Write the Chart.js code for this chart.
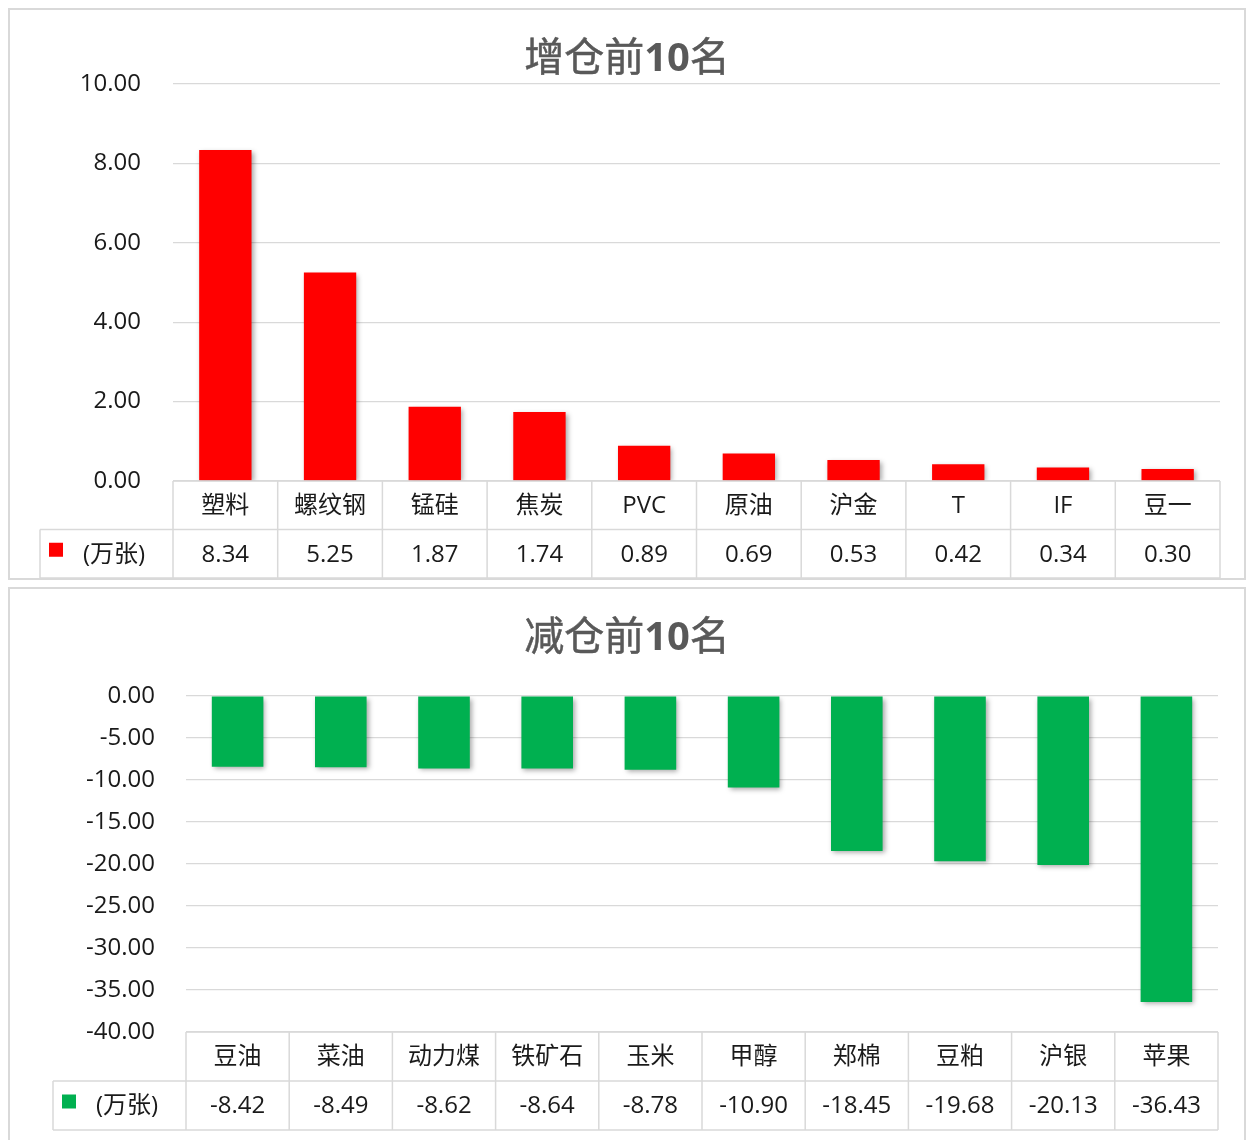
<!DOCTYPE html>
<html><head><meta charset="utf-8">
<script src="https://cdn.jsdelivr.net/npm/chart.js@4.4.1/dist/chart.umd.min.js"></script>
<style>
html,body{margin:0;padding:0;background:#fff;}
.panel{position:absolute;left:8px;width:1238px;border:2px solid #d9d9d9;box-sizing:border-box;background:#fff;}
#p1{top:8px;height:572px;}
#p2{top:587px;height:560px;}
canvas{display:block;}
</style></head><body>
<div class="panel" id="p1"><canvas id="c1" width="1234" height="568"></canvas></div>
<div class="panel" id="p2"><canvas id="c2" width="1234" height="556"></canvas></div>
<script>
const FONT = "'Open Sans','Noto Sans CJK SC',sans-serif";
Chart.defaults.font.family = FONT;

const incTitle = '增仓前10名';
const incCategories = ['塑料','螺纹钢','锰硅','焦炭','PVC','原油','沪金','T','IF','豆一'];
const incValues = [8.34, 5.25, 1.87, 1.74, 0.89, 0.69, 0.53, 0.42, 0.34, 0.30];
const incTicks = {min: 0, max: 10, step: 2};

const decTitle = '减仓前10名';
const decCategories = ['豆油','菜油','动力煤','铁矿石','玉米','甲醇','郑棉','豆粕','沪银','苹果'];
const decValues = [-8.42, -8.49, -8.62, -8.64, -8.78, -10.90, -18.45, -19.68, -20.13, -36.43];
const decTicks = {min: -40, max: 0, step: 5};

const unitLabel = '(万张)';

function drawTitle(ctx, text, cx, cy){
  const runs = [];
  for (const ch of text) {
    const bold = /[0-9A-Za-z]/.test(ch);
    if (runs.length && runs[runs.length-1].bold === bold) runs[runs.length-1].t += ch;
    else runs.push({t: ch, bold: bold});
  }
  const size = 40;
  let total = 0;
  for (const r of runs) {
    ctx.font = (r.bold ? 'bold ' : '') + size + 'px ' + FONT;
    r.w = ctx.measureText(r.t).width; total += r.w;
  }
  let x = cx - total/2;
  ctx.fillStyle = '#595959'; ctx.strokeStyle = '#595959'; ctx.lineWidth = 0.5;
  ctx.textAlign = 'left'; ctx.textBaseline = 'middle';
  for (const r of runs) {
    ctx.font = (r.bold ? 'bold ' : '') + size + 'px ' + FONT;
    ctx.fillText(r.t, x, cy);
    if (!r.bold) ctx.strokeText(r.t, x, cy);
    x += r.w;
  }
}

const excelPlugin = {
  id: 'excelTable',
  beforeDatasetsDraw(chart){
    const c = chart.ctx; c.save();
    c.shadowColor = 'rgba(0,0,0,0.35)'; c.shadowBlur = 5; c.shadowOffsetX = 2; c.shadowOffsetY = 2;
  },
  afterDatasetsDraw(chart){ chart.ctx.restore(); },
  afterDraw(chart, args, opts){
    const ctx = chart.ctx, a = chart.chartArea, xs = chart.scales.x;
    const cats = opts.categories, vals = opts.values, n = cats.length;
    const rowH = opts.rowH;
    const top = a.bottom, mid = top + rowH, bot = top + 2*rowH;
    const L = a.left, R = a.right, LL = opts.legendLeft;
    const w = (R - L) / n;
    ctx.save();
    ctx.strokeStyle = '#d9d9d9'; ctx.lineWidth = 1.5;
    ctx.beginPath();
    ctx.moveTo(L, top); ctx.lineTo(R, top);
    ctx.moveTo(LL, mid); ctx.lineTo(R, mid);
    ctx.moveTo(LL, bot); ctx.lineTo(R, bot);
    ctx.moveTo(LL, mid); ctx.lineTo(LL, bot);
    for (let i = 0; i <= n; i++) {
      const xx = (i < n ? xs.getPixelForTick(i) - w/2 : xs.getPixelForTick(n-1) + w/2);
      ctx.moveTo(xx, top); ctx.lineTo(xx, bot);
    }
    ctx.stroke();
    ctx.fillStyle = '#1a1a1a';
    ctx.font = '24px ' + FONT;
    ctx.textAlign = 'center'; ctx.textBaseline = 'middle';
    for (let i = 0; i < n; i++) {
      const cx = xs.getPixelForTick(i);
      ctx.fillText(cats[i], cx, top + rowH/2 + 1);
      ctx.fillText(vals[i].toFixed(2), cx, mid + rowH/2 + 1);
    }
    ctx.fillStyle = opts.color;
    ctx.fillRect(LL + 9, mid + rowH/2 - 11, 14, 14);
    ctx.fillStyle = '#1a1a1a';
    ctx.textAlign = 'left';
    ctx.fillText(opts.unit, LL + 43, mid + rowH/2 + 1);
    drawTitle(ctx, opts.title, chart.width/2, 50);
    ctx.restore();
  }
};

function makeChart(id, title, cats, vals, ticks, color, cfg){
  return new Chart(document.getElementById(id), {
    type: 'bar',
    data: { labels: cats, datasets: [{ data: vals, backgroundColor: color, borderWidth: 0,
      barPercentage: 0.5, categoryPercentage: 1.0 }] },
    options: {
      responsive: false, animation: false,
      layout: { padding: { left: 0, right: cfg.padRight, top: cfg.padTop, bottom: cfg.padBottom } },
      plugins: { legend: { display: false }, title: { display: false }, tooltip: { enabled: false },
        excelTable: { title: title, categories: cats, values: vals, color: color, unit: unitLabel,
          rowH: cfg.rowH, legendLeft: cfg.legendLeft } },
      scales: {
        x: { grid: { display: false }, border: { display: false }, ticks: { display: false },
          afterFit: s => { s.height = cfg.rowH * 2; } },
        y: { min: ticks.min, max: ticks.max,
          grid: { color: '#d9d9d9', lineWidth: 1.2, drawTicks: false },
          border: { display: false },
          ticks: { stepSize: ticks.step, padding: cfg.tickPad, color: '#1a1a1a', font: { size: 24 },
            callback: v => Number(v).toFixed(2) },
          afterFit: s => { s.width = cfg.left; } }
      }
    },
    plugins: [excelPlugin]
  });
}

makeChart('c1', incTitle, incCategories, incValues, incTicks, '#ff0000',
  { padRight: 24, padTop: 74, padBottom: 0, rowH: 48.5, legendLeft: 30, left: 163, tickPad: 32 });
makeChart('c2', decTitle, decCategories, decValues, decTicks, '#00b050',
  { padRight: 26, padTop: 107, padBottom: 15, rowH: 49, legendLeft: 43, left: 176, tickPad: 31 });
</script>
</body></html>
